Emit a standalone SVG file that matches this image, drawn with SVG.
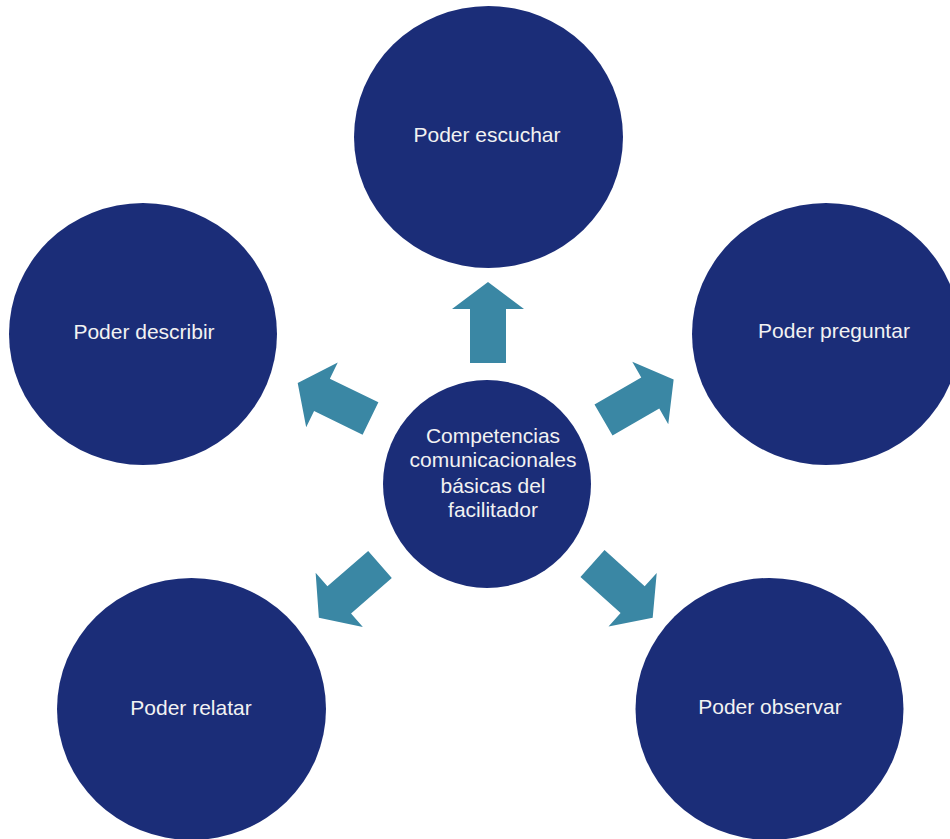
<svg xmlns="http://www.w3.org/2000/svg" width="950" height="839" viewBox="0 0 950 839">
<style>
.node{fill:#1B2D78}
.lbl{fill:#F2F2F2;font-family:"Liberation Sans",Arial,sans-serif;font-size:21px;text-anchor:middle}
.arr{fill:#3A87A4}
</style>
<defs>
<path id="arrow" d="M0,-18 L54,-18 L54,-36 L81,0 L54,36 L54,18 L0,18 Z"/>
</defs>
<rect width="950" height="839" fill="#FFFFFF"/>
<g id="connectors">
<use href="#arrow" class="arr" transform="translate(488,363) rotate(-90)"/>
<use href="#arrow" class="arr" transform="translate(370.5,418.5) rotate(206)"/>
<use href="#arrow" class="arr" transform="translate(603.5,420) rotate(-30)"/>
<use href="#arrow" class="arr" transform="translate(380,564.5) rotate(139)"/>
<use href="#arrow" class="arr" transform="translate(592.5,563.5) rotate(42)"/>
</g>
<g id="node-center">
<circle class="node" cx="487" cy="484" r="104"/>
<text class="lbl" x="493" y="443">Competencias</text>
<text class="lbl" x="493" y="467">comunicacionales</text>
<text class="lbl" x="493" y="493">básicas del</text>
<text class="lbl" x="493" y="517">facilitador</text>
</g>
<g id="node-escuchar">
<ellipse class="node" cx="488.5" cy="137" rx="134.5" ry="131"/>
<text class="lbl" x="487" y="142">Poder escuchar</text>
</g>
<g id="node-describir">
<ellipse class="node" cx="143" cy="334" rx="134" ry="131"/>
<text class="lbl" x="144" y="339">Poder describir</text>
</g>
<g id="node-preguntar">
<ellipse class="node" cx="826" cy="334" rx="134" ry="131"/>
<text class="lbl" x="834" y="338">Poder preguntar</text>
</g>
<g id="node-relatar">
<ellipse class="node" cx="191.5" cy="709" rx="134.5" ry="131"/>
<text class="lbl" x="191" y="715">Poder relatar</text>
</g>
<g id="node-observar">
<ellipse class="node" cx="769.5" cy="709" rx="134" ry="131"/>
<text class="lbl" x="770" y="714">Poder observar</text>
</g>
</svg>
